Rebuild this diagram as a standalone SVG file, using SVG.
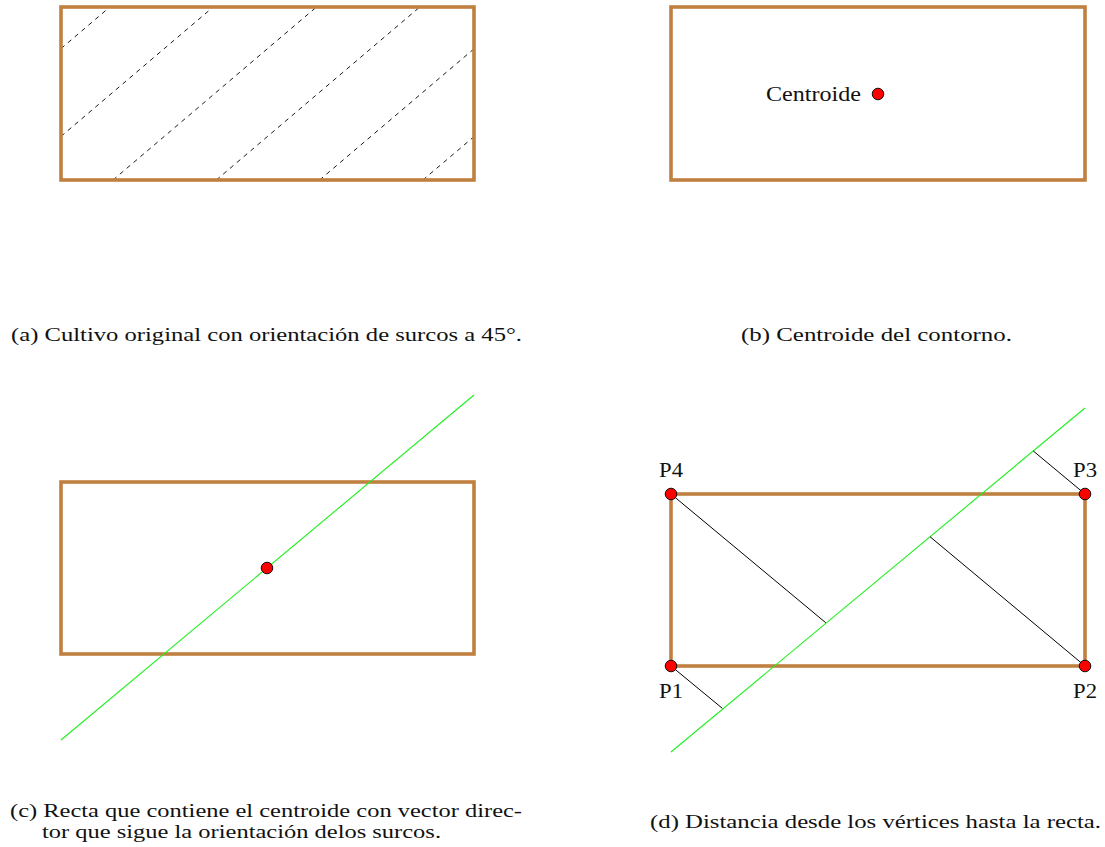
<svg xmlns="http://www.w3.org/2000/svg" width="1105" height="847" viewBox="0 0 1105 847">
<style>
.field{fill:none;stroke:#C08040;stroke-width:3.6}
.furrow{stroke:#000;stroke-width:0.9;stroke-dasharray:4.5 4.5;fill:none}
.dot{fill:#FF0000;stroke:#000;stroke-width:0.9}
.line{stroke:#1EF01E;stroke-width:1.1;fill:none}
.dist{stroke:#000;stroke-width:1;fill:none}
text{font-family:"Liberation Serif","DejaVu Serif",serif;fill:#111}
.cap{font-size:19.5px}
.lbl{font-size:20px}
</style>
<rect width="1105" height="847" fill="#FFFFFF"/>

<!-- Panel (a) -->
<g id="panel-a">
  <g id="furrows-a">
    <line class="furrow" x1="61" y1="48.6" x2="109.9" y2="7"/>
    <line class="furrow" x1="61" y1="136.4" x2="213.2" y2="7"/>
    <line class="furrow" x1="113" y1="180" x2="316.5" y2="7"/>
    <line class="furrow" x1="216.3" y1="180" x2="419.8" y2="7"/>
    <line class="furrow" x1="319.6" y1="180" x2="474" y2="48.8"/>
    <line class="furrow" x1="422.9" y1="180" x2="474" y2="136.6"/>
  </g>
  <rect id="field-a" class="field" x="61" y="7" width="413" height="173"/>
  <text class="cap" x="11" y="341" textLength="511" lengthAdjust="spacingAndGlyphs">(a) Cultivo original con orientación de surcos a 45°.</text>
</g>

<!-- Panel (b) -->
<g id="panel-b">
  <rect id="field-b" class="field" x="671" y="7" width="414" height="173"/>
  <g id="centroid-b">
    <circle class="dot" cx="878" cy="94" r="5.8"/>
    <text class="lbl" x="766" y="101" textLength="95" lengthAdjust="spacingAndGlyphs">Centroide</text>
  </g>
  <text class="cap" x="741" y="341" textLength="271" lengthAdjust="spacingAndGlyphs">(b) Centroide del contorno.</text>
</g>

<!-- Panel (c) -->
<g id="panel-c">
  <rect id="field-c" class="field" x="61" y="482" width="413" height="172"/>
  <g id="connectors-c">
    <line class="line" x1="61" y1="740" x2="474" y2="395"/>
  </g>
  <circle id="centroid-c" class="dot" cx="267" cy="568" r="5.8"/>
  <text class="cap" x="10" y="817" textLength="512" lengthAdjust="spacingAndGlyphs">(c) Recta que contiene el centroide con vector direc-</text>
  <text class="cap" x="42" y="838" textLength="399" lengthAdjust="spacingAndGlyphs">tor que sigue la orientación delos surcos.</text>
</g>

<!-- Panel (d) -->
<g id="panel-d">
  <rect id="field-d" class="field" x="671" y="494" width="414" height="172"/>
  <g id="connectors-d">
    <line class="line" x1="671" y1="752" x2="1085" y2="408"/>
    <line class="dist" x1="671" y1="494" x2="825.7" y2="622.7"/>
    <line class="dist" x1="1085" y1="666" x2="930" y2="536.7"/>
    <line class="dist" x1="671" y1="666" x2="722.3" y2="708.3"/>
    <line class="dist" x1="1085" y1="494" x2="1033.3" y2="451"/>
  </g>
  <g id="P1"><circle class="dot" cx="671" cy="666" r="5.8"/><text class="lbl" x="671" y="698" text-anchor="middle" textLength="24" lengthAdjust="spacingAndGlyphs">P1</text></g>
  <g id="P2"><circle class="dot" cx="1085" cy="666" r="5.8"/><text class="lbl" x="1085" y="698" text-anchor="middle" textLength="24" lengthAdjust="spacingAndGlyphs">P2</text></g>
  <g id="P3"><circle class="dot" cx="1085" cy="494" r="5.8"/><text class="lbl" x="1085" y="477" text-anchor="middle" textLength="24" lengthAdjust="spacingAndGlyphs">P3</text></g>
  <g id="P4"><circle class="dot" cx="671" cy="494" r="5.8"/><text class="lbl" x="671" y="477" text-anchor="middle" textLength="24" lengthAdjust="spacingAndGlyphs">P4</text></g>
  <text class="cap" x="650" y="828" textLength="451" lengthAdjust="spacingAndGlyphs">(d) Distancia desde los vértices hasta la recta.</text>
</g>
</svg>
